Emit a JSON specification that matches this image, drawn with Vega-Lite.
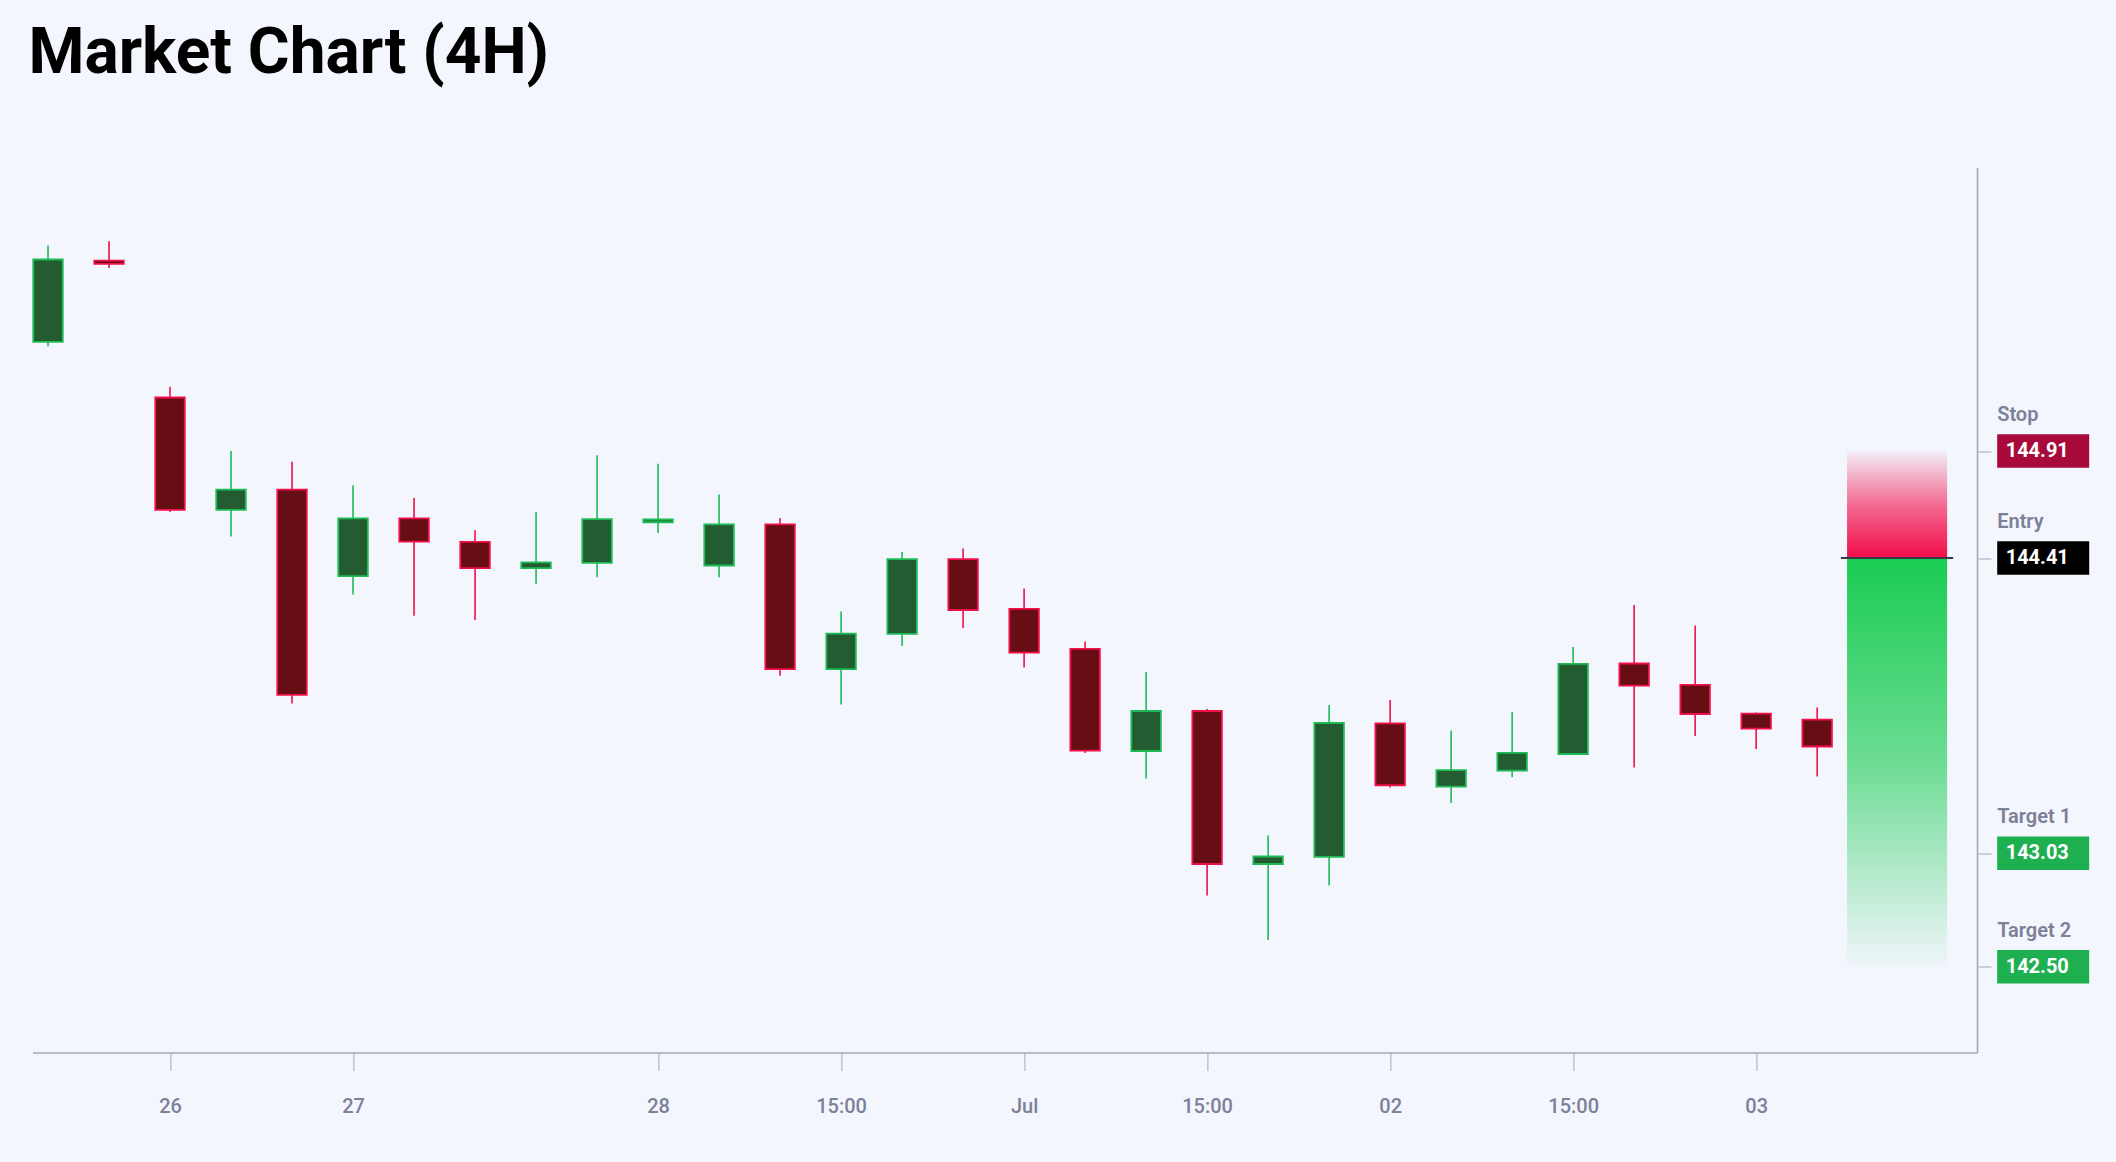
{
  "$schema": "https://vega.github.io/schema/vega-lite/v6.json",
  "autosize": "none",
  "width": 1944.6,
  "height": 885,
  "padding": {"left": 32.4, "top": 167.5, "right": 139, "bottom": 109.5},
  "background": "#F3F6FD",
  "title": {
    "text": "Market Chart (4H)",
    "anchor": "start",
    "frame": "group",
    "font": "Roboto",
    "fontSize": 64,
    "fontWeight": "bold",
    "color": "#000000",
    "baseline": "alphabetic",
    "offset": 30.5,
    "dx": -4
  },
  "datasets": {
    "candles": [
      {"i": 0, "open": 145.42, "high": 145.87, "low": 145.40, "close": 145.805},
      {"i": 1, "open": 145.80, "high": 145.89, "low": 145.765, "close": 145.785},
      {"i": 2, "open": 145.16, "high": 145.21, "low": 144.625, "close": 144.635},
      {"i": 3, "open": 144.635, "high": 144.91, "low": 144.51, "close": 144.73},
      {"i": 4, "open": 144.73, "high": 144.86, "low": 143.73, "close": 143.77},
      {"i": 5, "open": 144.325, "high": 144.75, "low": 144.24, "close": 144.595},
      {"i": 6, "open": 144.595, "high": 144.69, "low": 144.14, "close": 144.487},
      {"i": 7, "open": 144.485, "high": 144.54, "low": 144.12, "close": 144.363},
      {"i": 8, "open": 144.363, "high": 144.625, "low": 144.29, "close": 144.39},
      {"i": 9, "open": 144.387, "high": 144.89, "low": 144.32, "close": 144.592},
      {"i": 10, "open": 144.577, "high": 144.85, "low": 144.527, "close": 144.59},
      {"i": 11, "open": 144.375, "high": 144.707, "low": 144.32, "close": 144.567},
      {"i": 12, "open": 144.567, "high": 144.597, "low": 143.86, "close": 143.891},
      {"i": 13, "open": 143.891, "high": 144.16, "low": 143.725, "close": 144.057},
      {"i": 14, "open": 144.055, "high": 144.438, "low": 143.999, "close": 144.405},
      {"i": 15, "open": 144.405, "high": 144.454, "low": 144.083, "close": 144.167},
      {"i": 16, "open": 144.172, "high": 144.267, "low": 143.898, "close": 143.968},
      {"i": 17, "open": 143.985, "high": 144.02, "low": 143.499, "close": 143.51},
      {"i": 18, "open": 143.508, "high": 143.877, "low": 143.38, "close": 143.695},
      {"i": 19, "open": 143.695, "high": 143.704, "low": 142.833, "close": 142.98},
      {"i": 20, "open": 142.98, "high": 143.113, "low": 142.625, "close": 143.015},
      {"i": 21, "open": 143.013, "high": 143.723, "low": 142.88, "close": 143.639},
      {"i": 22, "open": 143.637, "high": 143.746, "low": 143.338, "close": 143.348},
      {"i": 23, "open": 143.342, "high": 143.604, "low": 143.265, "close": 143.419},
      {"i": 24, "open": 143.416, "high": 143.69, "low": 143.385, "close": 143.499},
      {"i": 25, "open": 143.494, "high": 143.994, "low": 143.49, "close": 143.915},
      {"i": 26, "open": 143.917, "high": 144.19, "low": 143.431, "close": 143.814},
      {"i": 27, "open": 143.817, "high": 144.095, "low": 143.578, "close": 143.681},
      {"i": 28, "open": 143.683, "high": 143.688, "low": 143.517, "close": 143.613},
      {"i": 29, "open": 143.655, "high": 143.711, "low": 143.389, "close": 143.529}
    ],
    "zones": [
      {"zone": "risk", "from": 144.41, "to": 144.91},
      {"zone": "reward", "from": 144.41, "to": 142.50}
    ],
    "levels": [
      {"level": "Stop", "price": 144.91},
      {"level": "Entry", "price": 144.41},
      {"level": "Target 1", "price": 143.03},
      {"level": "Target 2", "price": 142.50}
    ]
  },
  "layer": [
    {
      "data": {"name": "zones"},
      "transform": [{"filter": "datum.zone == 'risk'"}],
      "mark": {
        "type": "rect",
        "fill": {
          "gradient": "linear",
          "x1": 0, "y1": 1, "x2": 0, "y2": 0,
          "stops": [
            {"offset": 0, "color": "rgba(242,13,74,1)"},
            {"offset": 0.5, "color": "rgba(242,13,74,0.6)"},
            {"offset": 1, "color": "rgba(242,13,74,0.03)"}
          ]
        }
      },
      "encoding": {
        "x": {"datum": 29.49, "type": "quantitative"},
        "x2": {"datum": 31.13},
        "y": {"field": "from", "type": "quantitative"},
        "y2": {"field": "to"}
      }
    },
    {
      "data": {"name": "zones"},
      "transform": [{"filter": "datum.zone == 'reward'"}],
      "mark": {
        "type": "rect",
        "fill": {
          "gradient": "linear",
          "x1": 0, "y1": 0, "x2": 0, "y2": 1,
          "stops": [
            {"offset": 0, "color": "rgba(26,204,82,1)"},
            {"offset": 0.5, "color": "rgba(26,204,82,0.62)"},
            {"offset": 1, "color": "rgba(26,204,82,0.02)"}
          ]
        }
      },
      "encoding": {
        "x": {"datum": 29.49, "type": "quantitative"},
        "x2": {"datum": 31.13},
        "y": {"field": "to", "type": "quantitative"},
        "y2": {"field": "from"}
      }
    },
    {
      "data": {"name": "levels"},
      "transform": [{"filter": "datum.level == 'Entry'"}],
      "mark": {"type": "rule", "color": "#3A3A42", "strokeWidth": 2},
      "encoding": {
        "x": {"datum": 29.39, "type": "quantitative"},
        "x2": {"datum": 31.23},
        "y": {"field": "price", "type": "quantitative"}
      }
    },
    {
      "data": {"name": "candles"},
      "mark": {"type": "rule", "strokeWidth": 1.6},
      "encoding": {
        "x": {
          "field": "i",
          "type": "quantitative",
          "scale": {"domain": [-0.256, 31.62], "nice": false, "zero": false, "padding": 0},
          "axis": {
            "values": [2, 5, 10, 13, 16, 19, 22, 25, 28],
            "labelExpr": "['26','27','28','15:00','Jul','15:00','02','15:00','03'][indexof([2,5,10,13,16,19,22,25,28], datum.value)]",
            "title": null,
            "grid": false,
            "tickSize": 18,
            "tickColor": "#B3B6C2",
            "tickWidth": 1.2,
            "domainColor": "#A6A9B6",
            "domainWidth": 1.6,
            "labelFont": "Roboto",
            "labelFontSize": 20,
            "labelFontWeight": 500,
            "labelColor": "#7C8099",
            "labelPadding": 26
          }
        },
        "y": {
          "field": "low",
          "type": "quantitative",
          "scale": {"domain": [142.099, 146.235], "nice": false, "zero": false, "padding": 0},
          "axis": {
            "orient": "right",
            "values": [142.5, 143.03, 144.41, 144.91],
            "labels": false,
            "title": null,
            "grid": false,
            "tickSize": 14,
            "tickColor": "#B3B6C2",
            "tickWidth": 1.2,
            "domainColor": "#A6A9B6",
            "domainWidth": 1.6
          }
        },
        "y2": {"field": "high"},
        "color": {
          "condition": {"test": "datum.close >= datum.open", "value": "#1DBA55"},
          "value": "#F20F4C"
        }
      }
    },
    {
      "data": {"name": "candles"},
      "mark": {"type": "bar", "size": 29.5, "strokeWidth": 1.8},
      "encoding": {
        "x": {"field": "i", "type": "quantitative"},
        "y": {"field": "open", "type": "quantitative"},
        "y2": {"field": "close"},
        "fill": {
          "condition": {"test": "datum.close >= datum.open", "value": "#245C31"},
          "value": "#670E14"
        },
        "stroke": {
          "condition": {"test": "datum.close >= datum.open", "value": "#1DBA55"},
          "value": "#F20F4C"
        }
      }
    },
    {
      "data": {"name": "levels"},
      "mark": {"type": "bar", "orient": "horizontal", "size": 33.5},
      "encoding": {
        "x": {"datum": 31.951, "type": "quantitative"},
        "x2": {"datum": 33.459},
        "y": {"field": "price", "type": "quantitative"},
        "color": {
          "field": "level",
          "type": "nominal",
          "scale": {
            "domain": ["Stop", "Entry", "Target 1", "Target 2"],
            "range": ["#A80B3B", "#000000", "#1EAF50", "#1EAF50"]
          },
          "legend": null
        }
      }
    },
    {
      "data": {"name": "levels"},
      "mark": {
        "type": "text",
        "align": "left",
        "baseline": "middle",
        "font": "Roboto",
        "fontSize": 20,
        "fontWeight": "bold",
        "color": "#FFFFFF"
      },
      "encoding": {
        "x": {"datum": 32.09, "type": "quantitative"},
        "y": {"field": "price", "type": "quantitative"},
        "text": {"field": "price", "type": "quantitative", "format": ".2f"}
      }
    },
    {
      "data": {"name": "levels"},
      "mark": {
        "type": "text",
        "align": "left",
        "baseline": "middle",
        "dy": -36,
        "font": "Roboto",
        "fontSize": 20,
        "fontWeight": 600,
        "color": "#7C8099"
      },
      "encoding": {
        "x": {"datum": 31.951, "type": "quantitative"},
        "y": {"field": "price", "type": "quantitative"},
        "text": {"field": "level", "type": "nominal"}
      }
    }
  ],
  "config": {
    "view": {"stroke": null},
    "axis": {"grid": false}
  }
}
